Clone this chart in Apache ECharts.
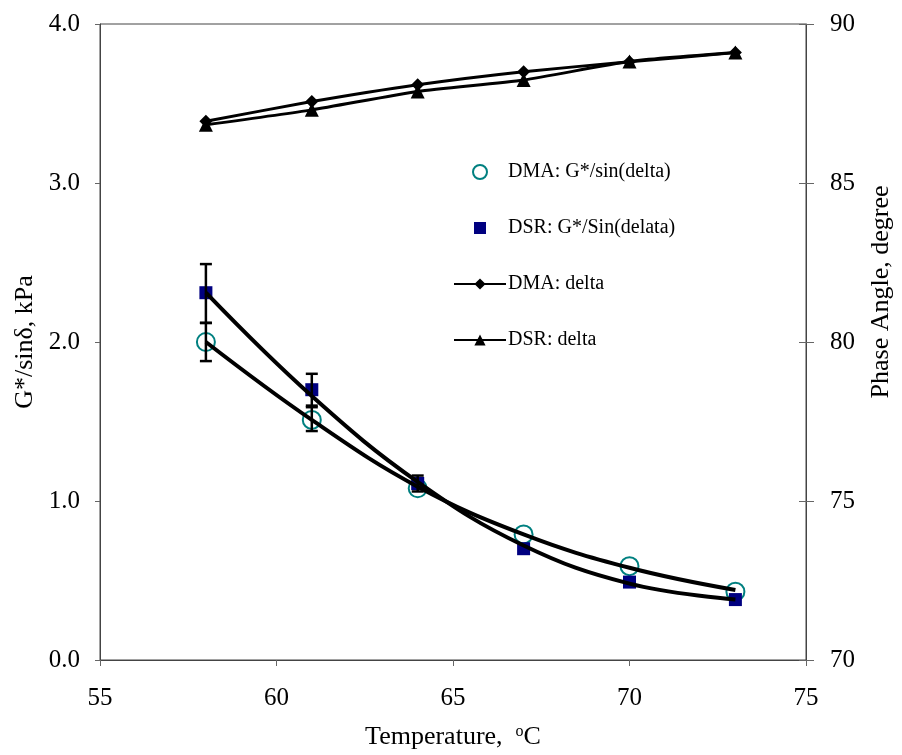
<!DOCTYPE html>
<html>
<head>
<meta charset="utf-8">
<script src="https://cdn.jsdelivr.net/npm/echarts@6/dist/echarts.min.js"></script>
<style>
  html, body { margin: 0; padding: 0; background: #fff; }
  #main { width: 902px; height: 755px; }
</style>
</head>
<body>
<div id="main"></div>
<script>
// temperatures, degC
const temps = [58, 61, 64, 67, 70, 73];

// G*/sin(delta), kPa
const dmaG = [2.00, 1.51, 1.08, 0.79, 0.59, 0.43];
const dsrG = [2.31, 1.70, 1.11, 0.70, 0.49, 0.38];

// trend curves
const dmaFit = [2.00, 1.51, 1.09, 0.79, 0.58, 0.44];
const dsrFit = [2.31, 1.66, 1.12, 0.72, 0.48, 0.38];

// phase angle, degree
const dmaDelta = [86.94, 87.56, 88.09, 88.50, 88.81, 89.10];
const dsrDelta = [86.83, 87.30, 87.88, 88.24, 88.82, 89.10];

// error bars
const errTemps = [58, 58, 61, 61, 64];
const errLow = [2.12, 1.88, 1.60, 1.44, 1.06];
const errHigh = [2.49, 2.12, 1.80, 1.59, 1.16];

const FONT = 'Liberation Serif, Times New Roman, serif';

const pairs = (xs, ys) => xs.map((x, i) => [x, ys[i]]);

let chart = echarts.init(document.getElementById('main'));

chart.setOption({
    animation: false,
    textStyle: { fontFamily: FONT, color: '#000' },
    grid: {
        left: 100, right: 94, top: 24, bottom: 93,
        show: true, borderColor: '#444', borderWidth: 1
    },
    legend: {
        orient: 'vertical',
        left: 448,
        top: 157,
        itemWidth: 52,
        itemHeight: 14,
        itemGap: 36,
        textStyle: { fontFamily: FONT, fontSize: 20, color: '#000', padding: [0, 0, 0, -3] },
        data: [
            { name: 'DMA: G*/sin(delta)' },
            // small square centred in the wide legend box
            { name: 'DSR: G*/Sin(delata)', icon: 'path://M0,7L0,7M20,1L32,1L32,13L20,13ZM52,7L52,7' },
            { name: 'DMA: delta' },
            { name: 'DSR: delta' }
        ]
    },
    xAxis: {
        type: 'value',
        min: 55, max: 75, interval: 5,
        name: 'Temperature,  {s|o}C',
        nameLocation: 'middle',
        nameGap: 64,
        nameTextStyle: {
            fontFamily: FONT, fontSize: 26, color: '#000',
            rich: { s: { fontFamily: FONT, fontSize: 16, color: '#000', padding: [0, 0, 10, 0] } }
        },
        splitLine: { show: false },
        axisLine: { lineStyle: { color: '#444', width: 1 } },
        axisTick: { inside: false, length: 6, lineStyle: { color: '#666' } },
        axisLabel: { fontFamily: FONT, fontSize: 25, color: '#000', margin: 26 }
    },
    yAxis: [{
        type: 'value',
        min: 0, max: 4, interval: 1,
        name: 'G*/sinδ, kPa',
        nameLocation: 'middle',
        nameRotate: 90,
        nameGap: 62,
        nameTextStyle: { fontFamily: FONT, fontSize: 26, color: '#000' },
        splitLine: { show: false },
        axisLine: { show: true, lineStyle: { color: '#444', width: 1 } },
        axisTick: { show: true, inside: false, length: 5, lineStyle: { color: '#666' } },
        axisLabel: {
            fontFamily: FONT, fontSize: 25, color: '#000', margin: 20,
            formatter: v => v.toFixed(1)
        }
    }, {
        type: 'value',
        position: 'right',
        min: 70, max: 90, interval: 5,
        name: 'Phase Angle, degree',
        nameLocation: 'middle',
        nameRotate: 90,
        nameGap: 62,
        nameTextStyle: { fontFamily: FONT, fontSize: 26, color: '#000', padding: [0, 0, 0, 100] },
        splitLine: { show: false },
        axisLine: { show: true, lineStyle: { color: '#444', width: 1 } },
        axisTick: { show: true, inside: false, length: 8, lineStyle: { color: '#666' } },
        axisLabel: { fontFamily: FONT, fontSize: 25, color: '#000', margin: 24 }
    }, {
        // inner half of the crossing ticks on the right
        type: 'value',
        position: 'right',
        min: 70, max: 90, interval: 5,
        splitLine: { show: false },
        axisLine: { show: false },
        axisTick: { show: true, inside: true, length: 7, lineStyle: { color: '#666' } },
        axisLabel: { show: false }
    }],
    series: [{
        name: 'DMA: G*/sin(delta)',
        type: 'scatter',
        yAxisIndex: 0,
        symbol: 'emptyCircle',
        symbolSize: 18,
        itemStyle: { color: '#008080', borderColor: '#008080', borderWidth: 2, opacity: 1 },
        z: 2,
        data: pairs(temps, dmaG)
    }, {
        name: 'DSR: G*/Sin(delata)',
        type: 'scatter',
        yAxisIndex: 0,
        symbol: 'rect',
        symbolSize: 13,
        itemStyle: { color: '#000080', opacity: 1 },
        z: 2,
        data: pairs(temps, dsrG)
    }, {
        name: 'DMA: delta',
        type: 'line',
        yAxisIndex: 1,
        symbol: 'diamond',
        symbolSize: 13,
        smooth: 0.2,
        lineStyle: { color: '#000', width: 3 },
        itemStyle: { color: '#000' },
        z: 4,
        data: pairs(temps, dmaDelta)
    }, {
        name: 'DSR: delta',
        type: 'line',
        yAxisIndex: 1,
        symbol: 'triangle',
        symbolSize: 14,
        smooth: 0.2,
        lineStyle: { color: '#000', width: 3 },
        itemStyle: { color: '#000' },
        z: 4,
        data: pairs(temps, dsrDelta)
    }, {
        name: 'dmaFit',
        type: 'line',
        yAxisIndex: 0,
        symbol: 'none',
        smooth: 0.4,
        lineStyle: { color: '#000', width: 4 },
        z: 5,
        data: pairs(temps, dmaFit)
    }, {
        name: 'dsrFit',
        type: 'line',
        yAxisIndex: 0,
        symbol: 'none',
        smooth: 0.4,
        lineStyle: { color: '#000', width: 4 },
        z: 5,
        data: pairs(temps, dsrFit)
    }, {
        name: 'err',
        type: 'custom',
        yAxisIndex: 0,
        z: 6,
        renderItem: function (params, api) {
            let x = api.value(0);
            let lo = api.coord([x, api.value(1)]);
            let hi = api.coord([x, api.value(2)]);
            let hw = 6;
            let style = { stroke: '#000', lineWidth: 2.5 };
            return {
                type: 'group',
                children: [
                    { type: 'line', shape: { x1: lo[0], y1: lo[1], x2: hi[0], y2: hi[1] }, style: style },
                    { type: 'line', shape: { x1: lo[0] - hw, y1: lo[1], x2: lo[0] + hw, y2: lo[1] }, style: style },
                    { type: 'line', shape: { x1: hi[0] - hw, y1: hi[1], x2: hi[0] + hw, y2: hi[1] }, style: style }
                ]
            };
        },
        data: errTemps.map((t, i) => [t, errLow[i], errHigh[i]])
    }]
});

window.onresize = function () {
    chart.resize();
};
</script>
</body>
</html>
